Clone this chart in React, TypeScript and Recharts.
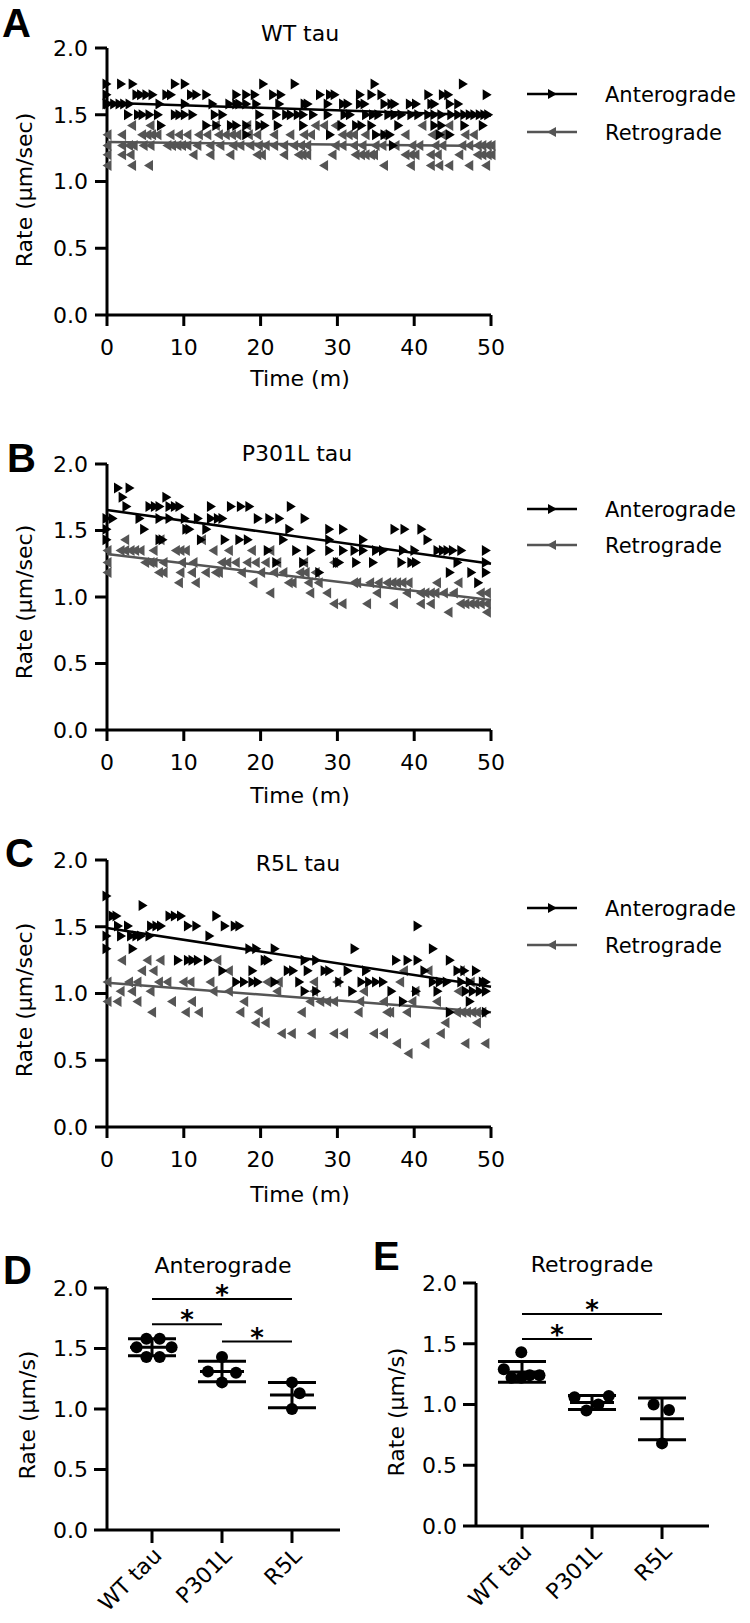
import { ScatterChart, Scatter, XAxis, YAxis, ErrorBar, ReferenceLine } from 'recharts'

type Row = [number, number[]]

const timeTicks = [0, 10, 20, 30, 40, 50]
const rateTicks = [0, 0.5, 1, 1.5, 2]
const groups = ['WT tau', 'P301L', 'R5L']

// rows of [rate, times]
const wtAnt: Row[] = [
  [1.73, [0, 1.9, 3.4, 8.9, 10.2, 20.4, 24.5, 34.9, 46.4]],
  [1.65, [0, 3.9, 4.5, 5.2, 6.0, 7.8, 8.4, 11.0, 11.7, 13.0, 16.9, 18.2, 19.3, 21.7, 22.7, 27.8, 29.1, 29.7, 33.0, 34.5, 35.8, 41.9, 43.8, 44.5, 49.5]],
  [1.58, [0, 0.2, 1.0, 1.7, 2.3, 3.0, 6.9, 10.2, 13.8, 16.0, 16.9, 17.3, 18.2, 19.5, 22.5, 25.8, 26.2, 28.8, 30.8, 31.4, 33.0, 33.6, 36.2, 37.1, 37.5, 39.5, 40.3, 42.3, 42.7, 44.7, 45.8]],
  [1.5, [2.8, 4.1, 4.7, 5.6, 6.7, 8.9, 9.5, 10.2, 11.2, 14.1, 15.1, 19.9, 22.1, 23.4, 24.0, 24.9, 25.6, 26.9, 28.8, 31.0, 31.7, 33.8, 34.7, 35.4, 36.7, 37.5, 38.4, 39.7, 40.6, 41.9, 42.7, 43.6, 44.9, 45.8, 46.6, 47.3, 47.9, 48.6, 49.2, 49.7]],
  [1.42, [7.1, 13.0, 14.3, 16.2, 16.9, 18.2, 19.9, 20.6, 22.3, 25.6, 30.6, 32.5, 33.2, 34.5, 38.0, 42.7, 43.6, 46.6, 49.0]],
  [1.35, [18.2, 29.1, 35.1, 36.2, 36.9, 43.4, 44.7]],
  [1.27, [37.3]],
]
const wtRet: Row[] = [
  [1.42, [3.2, 5.6, 14.1, 18.2, 27.1, 28.2, 29.7, 41.0, 44.5]],
  [1.35, [0, 1.9, 4.5, 5.2, 5.8, 6.5, 8.2, 9.3, 10.4, 11.9, 13.0, 14.5, 15.4, 16.2, 16.9, 18.4, 19.5, 21.7, 23.8, 25.6, 26.5, 30.6, 31.4, 32.1, 33.6, 35.8, 38.8, 42.3, 43.6, 46.6, 47.7]],
  [1.27, [0, 1.9, 2.8, 3.4, 4.7, 5.6, 7.8, 8.4, 9.1, 9.7, 10.4, 11.7, 13.4, 14.7, 16.4, 17.3, 18.6, 19.7, 20.6, 21.7, 23.0, 24.3, 25.2, 26.0, 29.7, 30.6, 32.1, 33.2, 34.9, 35.8, 37.5, 39.7, 40.6, 42.7, 43.6, 46.2, 47.1, 48.2, 48.8, 49.5, 50]],
  [1.2, [0, 1.9, 3.0, 11.2, 13.4, 16.0, 19.5, 20.1, 23.0, 24.9, 25.4, 26.0, 29.3, 32.3, 33.0, 33.6, 34.3, 34.7, 38.8, 39.5, 40.1, 42.1, 43.0, 45.8, 48.2, 48.8, 49.5, 50]],
  [1.12, [0, 3.2, 5.4, 28.2, 36.0, 39.5, 42.1, 43.2, 44.5, 47.1, 49.3]],
]
const wtAntFit = [{ x: 0, y: 1.59 }, { x: 50, y: 1.495 }]
const wtRetFit = [{ x: 0, y: 1.295 }, { x: 50, y: 1.265 }]

const p301Ant: Row[] = [
  [1.82, [1.5, 3.0]],
  [1.75, [2.1, 7.8]],
  [1.68, [2.6, 5.6, 6.3, 6.9, 8.2, 8.9, 9.5, 13.6, 16.2, 17.5, 18.6, 24.0]],
  [1.59, [0, 0.8, 4.3, 6.9, 8.2, 10.2, 11.9, 13.6, 14.5, 15.1, 19.7, 21.2, 22.5, 25.8]],
  [1.51, [0, 4.9, 10.4, 10.8, 13.0, 23.8, 29.0, 30.8, 37.5, 38.8, 41.0]],
  [1.43, [0, 6.9, 7.3, 12.3, 15.4, 17.3, 18.4, 23.0, 29.0, 33.4, 41.8]],
  [1.35, [21.0, 24.7, 26.6, 29.0, 30.8, 32.3, 33.4, 35.1, 36.0, 38.6, 40.1, 43.1, 43.8, 44.4, 45.1, 46.2, 49.4]],
  [1.26, [22.1, 25.6, 30.0, 30.3, 32.5, 34.7, 38.4, 39.7, 40.3, 45.7, 49.4]],
  [1.185, [27.7, 44.7, 47.5, 49.4]],
  [1.107, [48.4]],
]
const p301Ret: Row[] = [
  [1.43, [2.3, 6.9, 12.3]],
  [1.35, [0, 1.7, 2.3, 3.0, 3.6, 4.3, 6.0, 8.9, 9.5, 10.2, 13.8, 15.8, 18.8, 21.2]],
  [1.26, [0, 4.9, 5.6, 6.0, 7.3, 9.7, 11.2, 14.9, 15.6, 16.7, 18.2, 19.3, 20.6, 22.1, 25.6, 29.5]],
  [1.185, [0, 6.7, 7.3, 9.5, 11.0, 12.8, 14.1, 14.5, 17.5, 20.0, 21.7, 22.9, 25.1, 25.8, 27.1]],
  [1.107, [9.3, 11.5, 19.0, 23.6, 24.1, 26.2, 27.5, 32.1, 32.5, 34.2, 35.3, 36.4, 37.1, 37.7, 38.4, 39.2, 42.9, 45.7]],
  [1.03, [21.2, 26.4, 28.6, 35.1, 39.0, 40.8, 41.4, 42.1, 42.7, 43.8, 45.1, 48.6, 49.4]],
  [0.95, [29.5, 30.6, 33.8, 37.3, 40.8, 42.1, 46.0, 46.6, 47.3, 47.9, 48.6, 49.4]],
  [0.885, [44.4, 49.4]],
]
const p301AntFit = [{ x: 0, y: 1.654 }, { x: 50, y: 1.25 }]
const p301RetFit = [{ x: 0, y: 1.323 }, { x: 50, y: 0.977 }]

const r5lAnt: Row[] = [
  [1.73, [0]],
  [1.66, [4.7]],
  [1.58, [0.8, 1.3, 8.2, 8.9, 9.7, 14.3]],
  [1.505, [1.5, 2.8, 5.8, 6.5, 7.1, 10.6, 11.7, 15.4, 16.7, 17.3, 40.5]],
  [1.43, [0, 1.9, 3.2, 3.9, 4.5, 5.6, 13.4]],
  [1.336, [0, 3.4, 18.6, 19.5, 21.9, 32.3, 42.5]],
  [1.25, [9.3, 10.6, 11.2, 11.9, 13.2, 20.6, 21.0, 25.8, 27.3, 37.7, 39.2, 40.5, 44.7]],
  [1.17, [15.1, 19.0, 23.6, 24.3, 26.2, 28.4, 29.0, 31.4, 33.8, 41.4, 45.7, 46.6, 48.1]],
  [1.086, [16.9, 17.9, 19.0, 19.7, 21.9, 25.1, 30.3, 33.2, 34.2, 35.1, 36.0, 42.5, 43.4, 44.3, 46.2, 47.3, 49.0, 49.4]],
  [1.016, [25.8, 27.3, 32.0, 37.1, 40.3, 43.1, 46.8, 47.7, 48.6, 49.4]],
  [0.94, [38.6, 47.3]],
  [0.86, [44.7, 49.4]],
]
const r5lRet: Row[] = [
  [1.25, [1.9, 5.2, 6.9, 14.3]],
  [1.17, [4.5, 6.0, 15.8, 38.6, 41.8, 46.0]],
  [1.086, [0, 2.8, 3.9, 6.7, 7.8, 9.9, 10.8, 13.4, 20.8, 22.3, 26.9, 29.9, 38.1, 47.3]],
  [1.016, [1.7, 3.2, 5.6, 13.8, 15.8, 22.1, 26.9, 33.4, 40.1, 45.7]],
  [0.94, [0, 1.3, 3.9, 8.4, 11.0, 17.8, 26.4, 27.7, 28.6, 29.5, 32.9, 36.0, 39.7, 42.9]],
  [0.86, [5.8, 10.2, 11.9, 17.3, 19.7, 25.3, 32.7, 36.4, 36.8, 39.0, 45.5, 46.2, 46.8, 47.5, 48.1, 48.8]],
  [0.78, [19.3, 20.6, 44.0, 48.1]],
  [0.7, [22.7, 24.0, 26.6, 29.5, 30.8, 34.7, 36.0, 43.4]],
  [0.625, [37.7, 41.4, 46.6, 49.2]],
  [0.55, [39.2]],
]
const r5lAntFit = [{ x: 0, y: 1.49 }, { x: 50, y: 1.05 }]
const r5lRetFit = [{ x: 0, y: 1.08 }, { x: 50, y: 0.86 }]

// summary panels: [x position (group index + jitter), rate]
const antDots = [
  [-0.22, 1.51], [-0.08, 1.58], [0.11, 1.58], [0.28, 1.51], [-0.08, 1.43], [0.11, 1.43],
  [1.0, 1.43], [0.8, 1.31], [1.2, 1.3], [1.0, 1.22],
  [2.0, 1.22], [2.11, 1.13], [2.0, 1.0],
]
const antMean = [1.51, 1.31, 1.115]
const antSd = [0.07, 0.085, 0.105]
const antSig = [[0, 2, 1.91], [0, 1, 1.7], [1, 2, 1.557]]

const retDots = [
  [-0.26, 1.29], [-0.01, 1.43], [-0.15, 1.22], [-0.01, 1.22], [0.11, 1.24], [0.25, 1.24],
  [0.75, 1.06], [0.92, 0.95], [1.09, 1.0], [1.24, 1.07],
  [1.88, 1.0], [2.1, 0.955], [2.0, 0.68],
]
const retMean = [1.268, 1.016, 0.882]
const retSd = [0.085, 0.058, 0.172]
const retSig = [[0, 2, 1.745], [0, 1, 1.54]]

const FONT = '"DejaVu Sans", sans-serif'
const GRAY = '#555555'
const axisStyle = { stroke: '#000', strokeWidth: 3 }
const tickStyle = { fontSize: 22, fill: '#000', fontFamily: FONT }

const flat = (rows: Row[]) => rows.flatMap(([v, ts]) => ts.map((t) => ({ x: t, y: v })))
const toXY = (pts: number[][]) => pts.map(([x, y]) => ({ x, y }))

const RightTri = (p: any) => (
  <path d={`M${p.cx - 4.5},${p.cy - 5.5}L${p.cx + 4.5},${p.cy}L${p.cx - 4.5},${p.cy + 5.5}Z`} fill="#000" />
)
const LeftTri = (p: any) => (
  <path d={`M${p.cx + 4.5},${p.cy - 5.5}L${p.cx - 4.5},${p.cy}L${p.cx + 4.5},${p.cy + 5.5}Z`} fill={GRAY} />
)
const Empty = () => <g />
const Dot = (p: any) => <circle cx={p.cx} cy={p.cy} r={6} fill="#000" />
const MeanLine = (p: any) => (
  <line x1={p.cx - 22} x2={p.cx + 22} y1={p.cy} y2={p.cy} stroke="#000" strokeWidth={3} />
)
const Star = (p: any) => (
  <text x={p.cx} y={p.cy + 5} textAnchor="middle" fontSize={26} fontWeight="bold" fontFamily={FONT} fill="#000">
    *
  </text>
)
const GroupTick = (p: any) => {
  const x = p.x + 11
  const y = p.y + 14
  return (
    <text x={x} y={y} textAnchor="end" transform={`rotate(-45, ${x}, ${y})`} fontSize={22} fontFamily={FONT} fill="#000">
      {groups[p.payload.value]}
    </text>
  )
}

function TimeChart({ top, height, ant, ret, antFit, retFit }: any) {
  return (
    <div style={{ position: 'absolute', left: 0, top: top - 20 }}>
      <ScatterChart width={520} height={height + 20} margin={{ top: 20, right: 29, left: 0, bottom: 0 }}>
        <XAxis type="number" dataKey="x" domain={[0, 50]} ticks={timeTicks} interval={0} height={60}
          tick={tickStyle} tickSize={11} tickMargin={13} axisLine={axisStyle} tickLine={axisStyle} />
        <YAxis type="number" dataKey="y" domain={[0, 2]} ticks={rateTicks} interval={0} width={107}
          tickFormatter={(v: number) => v.toFixed(1)} tick={tickStyle} tickSize={12} tickMargin={7}
          axisLine={axisStyle} tickLine={axisStyle} />
        <Scatter data={flat(ret)} shape={LeftTri} isAnimationActive={false} />
        <Scatter data={retFit} shape={Empty} line={{ stroke: GRAY, strokeWidth: 2.5 }} isAnimationActive={false} />
        <Scatter data={flat(ant)} shape={RightTri} isAnimationActive={false} />
        <Scatter data={antFit} shape={Empty} line={{ stroke: '#000', strokeWidth: 2.5 }} isAnimationActive={false} />
      </ScatterChart>
    </div>
  )
}

function GroupChart({ left, top, width, height, yWidth, domain, dots, means, sds, sig }: any) {
  const meanData = means.map((m: number, i: number) => ({ x: i, y: m, sd: sds[i] }))
  const stars = sig.map(([a, b, h]: number[]) => ({ x: (a + b) / 2, y: h }))
  return (
    <div style={{ position: 'absolute', left, top: top - 20 }}>
      <ScatterChart width={width} height={height + 20} margin={{ top: 20, right: 10, left: 0, bottom: 0 }}>
        <XAxis type="number" dataKey="x" domain={domain} ticks={[0, 1, 2]} interval={0} height={100}
          tick={<GroupTick />} tickSize={13} tickMargin={0} axisLine={axisStyle} tickLine={axisStyle} />
        <YAxis type="number" dataKey="y" domain={[0, 2]} ticks={rateTicks} interval={0} width={yWidth}
          tickFormatter={(v: number) => v.toFixed(1)} tick={tickStyle} tickSize={13} tickMargin={6}
          axisLine={axisStyle} tickLine={axisStyle} />
        {sig.map(([a, b, h]: number[], i: number) => (
          <ReferenceLine key={i} segment={[{ x: a, y: h }, { x: b, y: h }]} stroke="#000" strokeWidth={2} ifOverflow="visible" />
        ))}
        <Scatter data={toXY(dots)} shape={Dot} isAnimationActive={false} />
        <Scatter data={meanData} shape={MeanLine} isAnimationActive={false}>
          <ErrorBar dataKey="sd" direction="y" width={24} stroke="#000" strokeWidth={3} />
        </Scatter>
        <Scatter data={stars} shape={Star} isAnimationActive={false} />
      </ScatterChart>
    </div>
  )
}

function Legend({ y1, y2 }: { y1: number; y2: number }) {
  return (
    <g>
      <line x1={527} x2={577} y1={y1} y2={y1} stroke="#000" strokeWidth={2.5} />
      <path d={`M548,${y1 - 5}L557,${y1}L548,${y1 + 5}Z`} fill="#000" />
      <text x={605} y={y1 + 8} fontSize={21} fontFamily={FONT}>Anterograde</text>
      <line x1={527} x2={577} y1={y2} y2={y2} stroke={GRAY} strokeWidth={2.5} />
      <path d={`M556,${y2 - 5}L547,${y2}L556,${y2 + 5}Z`} fill={GRAY} />
      <text x={605} y={y2 + 8} fontSize={21} fontFamily={FONT}>Retrograde</text>
    </g>
  )
}

const letter = { fontSize: 40, fontWeight: 'bold' as const, fontFamily: '"Liberation Sans", Arial, sans-serif' }

export default function App() {
  return (
    <div style={{ position: 'absolute', left: 0, top: 0, width: 750, height: 1623, background: '#fff' }}>
      <TimeChart top={48} height={327} ant={wtAnt} ret={wtRet} antFit={wtAntFit} retFit={wtRetFit} />
      <TimeChart top={464} height={326} ant={p301Ant} ret={p301Ret} antFit={p301AntFit} retFit={p301RetFit} />
      <TimeChart top={860} height={327} ant={r5lAnt} ret={r5lRet} antFit={r5lAntFit} retFit={r5lRetFit} />
      <GroupChart left={0} top={1288} width={350} height={342} yWidth={107} domain={[-0.643, 2.686]}
        dots={antDots} means={antMean} sds={antSd} sig={antSig} />
      <GroupChart left={370} top={1283} width={349} height={343} yWidth={106} domain={[-0.657, 2.671]}
        dots={retDots} means={retMean} sds={retSd} sig={retSig} />
      <svg width={750} height={1623} style={{ position: 'absolute', left: 0, top: 0, pointerEvents: 'none' }}>
        <g fill="#000">
          <text x={2} y={37} {...letter}>A</text>
          <text x={7} y={472} {...letter}>B</text>
          <text x={5} y={867} {...letter}>C</text>
          <text x={3} y={1284} {...letter}>D</text>
          <text x={373} y={1270} {...letter}>E</text>
        </g>
        <g fontSize={22} fontFamily={FONT} textAnchor="middle" fill="#000">
          <text x={300} y={41}>WT tau</text>
          <text x={297} y={461}>P301L tau</text>
          <text x={298} y={871}>R5L tau</text>
          <text x={223} y={1273}>Anterograde</text>
          <text x={592} y={1272}>Retrograde</text>
        </g>
        <g fontSize={22} fontFamily={FONT} textAnchor="middle" fill="#000">
          <text x={300} y={386}>Time (m)</text>
          <text x={300} y={803}>Time (m)</text>
          <text x={300} y={1202}>Time (m)</text>
          <text x={32} y={190} transform="rotate(-90, 32, 190)">Rate (µm/sec)</text>
          <text x={32} y={602} transform="rotate(-90, 32, 602)">Rate (µm/sec)</text>
          <text x={32} y={1000} transform="rotate(-90, 32, 1000)">Rate (µm/sec)</text>
          <text x={35} y={1415} transform="rotate(-90, 35, 1415)">Rate (µm/s)</text>
          <text x={404} y={1412} transform="rotate(-90, 404, 1412)">Rate (µm/s)</text>
        </g>
        <Legend y1={94} y2={132} />
        <Legend y1={509} y2={545} />
        <Legend y1={908} y2={945} />
      </svg>
    </div>
  )
}
